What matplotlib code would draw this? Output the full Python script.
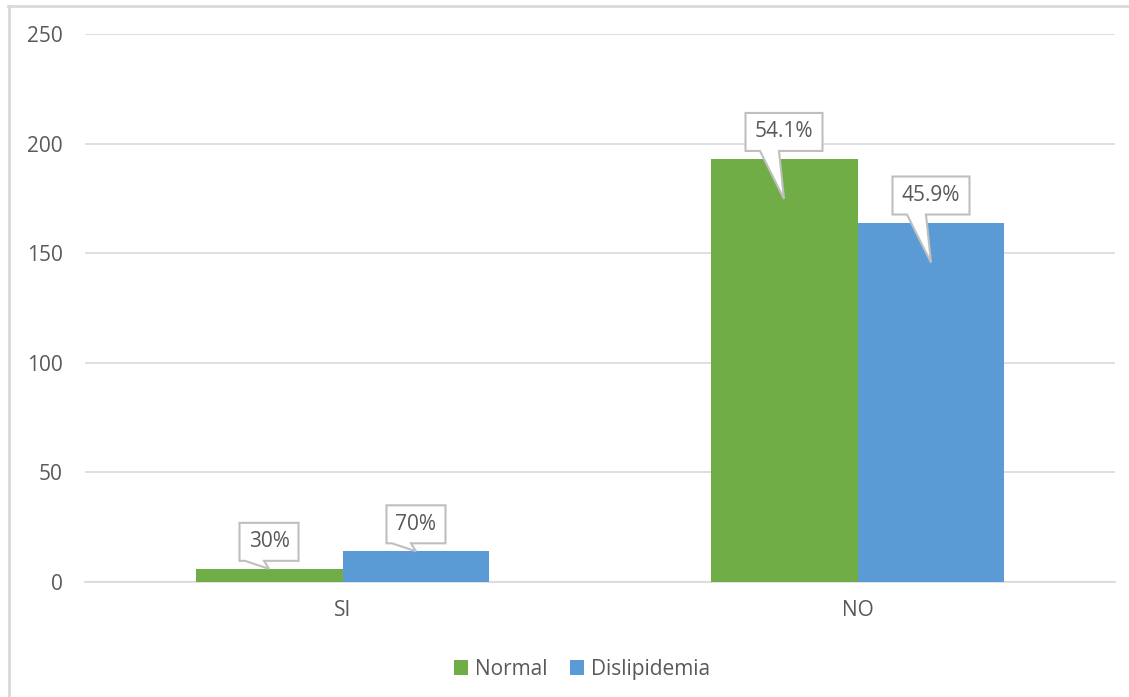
import matplotlib.pyplot as plt
import numpy as np
from matplotlib.lines import Line2D
from matplotlib.patches import Polygon
from matplotlib.transforms import IdentityTransform

categories = ["SI", "NO"]
series_names = ["Normal", "Dislipidemia"]
normal = [6, 193]
dislipidemia = [14, 164]
pct_labels = [["30%", "54.1%"], ["70%", "45.9%"]]
y_ticks = [0, 50, 100, 150, 200, 250]

colors = ["#70AD47", "#5B9BD5"]
text_color = "#595959"
grid_color = "#D9D9D9"

plt.rcParams["font.family"] = ["Open Sans", "DejaVu Sans"]
fs = 15

W, H = 1129, 697
fig = plt.figure(figsize=(W / 100, H / 100), dpi=100)
ax = fig.add_axes([85 / W, 115 / H, 1030 / W, 548 / H])

x = np.arange(len(categories))
bw = 0.2854
series = [normal, dislipidemia]
for i, vals in enumerate(series):
    offs = (i - 0.5) * bw
    ax.bar(x + offs, vals, width=bw, color=colors[i], label=series_names[i], zorder=3)

ax.set_xlim(-0.5, len(categories) - 0.5)
ax.set_ylim(0, 250)
ax.set_yticks(y_ticks)
ax.set_xticks(x)
ax.set_xticklabels(categories)
ax.tick_params(axis="both", length=0, labelsize=fs, labelcolor=text_color)
ax.tick_params(axis="y", pad=16)
ax.tick_params(axis="x", pad=13)
ax.grid(axis="y", color=grid_color, linewidth=1.2, zorder=0)
for s in ["top", "right", "left"]:
    ax.spines[s].set_visible(False)
ax.spines["bottom"].set_color(grid_color)
ax.spines["bottom"].set_linewidth(1.2)

leg = ax.legend(loc="upper center", bbox_to_anchor=(0.4825, -0.125), ncol=2, frameon=False,
                fontsize=fs, handlelength=0.68, handleheight=0.68, handletextpad=0.3,
                columnspacing=1.1, borderaxespad=0)
for t in leg.get_texts():
    t.set_color(text_color)

# callout labels drawn in pixel space above each bar
fig.canvas.draw()
ident = IdentityTransform()
for i, vals in enumerate(series):
    offs = (i - 0.5) * bw
    for j, v in enumerate(vals):
        cx, top = ax.transData.transform((x[j] + offs, v))
        bar_px = top - ax.transData.transform((0, 0))[1]
        tip_y = top - (40 if bar_px > 100 else 0)
        label = pct_labels[i][j]
        bw_px = 77 if len(label) > 3 else 59
        bh_px = 38
        cy = top + 27
        x0, x1 = cx - bw_px / 2, cx + bw_px / 2
        y0, y1 = cy - bh_px / 2, cy + bh_px / 2
        verts = [(x0, y0), (cx - 24, y0), (cx, tip_y), (cx - 5, y0), (x1, y0),
                 (x1, y1), (x0, y1)]
        fig.add_artist(Polygon(verts, closed=True, facecolor="white", edgecolor="#BFBFBF",
                               linewidth=1.5, transform=ident, zorder=5))
        fig.text(cx, cy, label, transform=ident, ha="center", va="center",
                 fontsize=fs, color=text_color, zorder=6)

# outer chart frame (top and left edges)
fig.add_artist(Line2D([8, W], [H - 5.5, H - 5.5], color=grid_color, linewidth=2, transform=ident))
fig.add_artist(Line2D([8.5, 8.5], [0, H - 5.5], color=grid_color, linewidth=2, transform=ident))

fig.savefig("out.png", dpi=100)
